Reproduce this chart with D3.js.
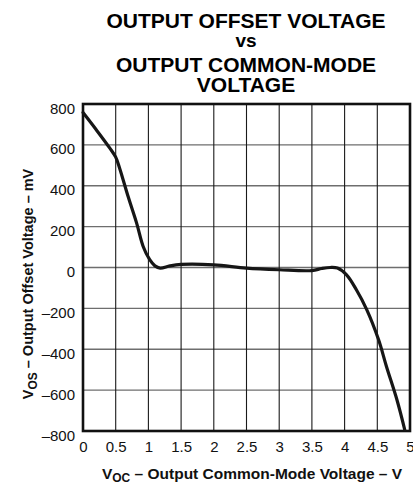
<!DOCTYPE html>
<html>
<head>
<meta charset="utf-8">
<script src="https://cdn.jsdelivr.net/npm/d3@7"></script>
<style>
  html, body { margin: 0; padding: 0; background: #fff; }
  svg { display: block; font-family: Arial, "Liberation Sans", Helvetica, sans-serif; }
</style>
</head>
<body>
<svg id="chart" width="413" height="485"></svg>
<script>
// Output common-mode voltage (V) and output offset voltage (mV)
const vocValues = [0, 0.2, 0.41, 0.5, 0.56, 0.69, 0.82, 0.92, 1.02, 1.1, 1.18, 1.33, 1.5, 2.0, 2.5, 3.0, 3.5, 3.65, 3.78, 3.89, 4.03, 4.18, 4.34, 4.52, 4.64, 4.8, 4.92];
const vosValues = [758, 675, 584, 540, 486, 347, 217, 103, 38, 8, -3, 8, 15, 13, -3, -11, -15, -5, 0, -3, -36, -109, -207, -354, -484, -647, -794];

const xTicks = [0, 0.5, 1, 1.5, 2, 2.5, 3, 3.5, 4, 4.5, 5];
const yTicks = [800, 600, 400, 200, 0, -200, -400, -600, -800];
const titleLines = ["OUTPUT OFFSET VOLTAGE", "vs", "OUTPUT COMMON-MODE", "VOLTAGE"];

const svg = d3.select("#chart");
const plot = { left: 83, right: 410, top: 104, bottom: 431 };

const x = d3.scaleLinear().domain([0, 5]).range([plot.left, plot.right]);
const y = d3.scaleLinear().domain([-800, 800]).range([plot.bottom, plot.top]);

// Title
const titleY = [28, 47, 72, 92];
svg.append("g").selectAll("text").data(titleLines).join("text")
  .attr("x", 246)
  .attr("y", (d, i) => titleY[i])
  .attr("text-anchor", "middle")
  .attr("font-weight", "bold")
  .attr("font-size", (d, i) => i === 1 ? 19 : 21)
  .attr("fill", "#000")
  .text(d => d);

// Grid
const grid = svg.append("g");
grid.selectAll("line.h").data(yTicks).join("line")
  .attr("class", "h")
  .attr("x1", plot.left).attr("x2", plot.right)
  .attr("y1", d => y(d)).attr("y2", d => y(d))
  .attr("stroke", "#6e6e6e").attr("stroke-width", 1.4);
grid.selectAll("line.v").data(xTicks).join("line")
  .attr("class", "v")
  .attr("y1", plot.top).attr("y2", plot.bottom)
  .attr("x1", d => x(d)).attr("x2", d => x(d))
  .attr("stroke", "#1a1a1a").attr("stroke-width", 1.1);

// Frame
svg.append("rect")
  .attr("x", plot.left).attr("y", plot.top)
  .attr("width", plot.right - plot.left).attr("height", plot.bottom - plot.top)
  .attr("fill", "none").attr("stroke", "#111").attr("stroke-width", 2.6);

// Axes (labels only, the frame and grid carry the lines)
const fmtY = d => d < 0 ? "\u2013" + Math.abs(d) : String(d);
const yAxis = svg.append("g")
  .attr("transform", `translate(${plot.left},0)`)
  .call(d3.axisLeft(y).tickValues(yTicks).tickSize(0).tickPadding(8).tickFormat(fmtY));
yAxis.select(".domain").remove();
yAxis.selectAll("text")
  .attr("font-size", 15).attr("font-family", null).attr("fill", "#111")
  .attr("dy", "0.6em");

const xAxis = svg.append("g")
  .attr("transform", `translate(0,${plot.bottom})`)
  .call(d3.axisBottom(x).tickValues(xTicks).tickSize(0).tickPadding(10).tickFormat(d3.format("")));
xAxis.select(".domain").remove();
xAxis.selectAll("text")
  .attr("font-size", 15).attr("font-family", null).attr("fill", "#111");

// Curve
const pts = vocValues.map((v, i) => [v, vosValues[i]]);
const line = d3.line()
  .x(d => x(d[0]))
  .y(d => y(d[1]))
  .curve(d3.curveCatmullRom.alpha(0.5));
svg.append("path")
  .datum(pts)
  .attr("d", line)
  .attr("fill", "none")
  .attr("stroke", "#161616")
  .attr("stroke-width", 3.2)
  .attr("stroke-linejoin", "round")
  .attr("stroke-linecap", "round");

// Axis titles
const xt = svg.append("text")
  .attr("x", 252).attr("y", 479)
  .attr("text-anchor", "middle")
  .attr("font-weight", "bold").attr("font-size", 15.5).attr("fill", "#111");
xt.append("tspan").text("V");
xt.append("tspan").attr("font-size", 12).attr("dy", 3).text("OC");
xt.append("tspan").attr("dy", -3).text(" \u2013 Output Common-Mode Voltage \u2013 V");

const yt = svg.append("text")
  .attr("transform", `translate(33,284) rotate(-90)`)
  .attr("text-anchor", "middle")
  .attr("font-weight", "bold").attr("font-size", 14.5).attr("fill", "#111");
yt.append("tspan").text("V");
yt.append("tspan").attr("font-size", 12).attr("dy", 4).text("OS");
yt.append("tspan").attr("dy", -4).text(" \u2013 Output Offset Voltage \u2013 mV");
</script>
</body>
</html>
